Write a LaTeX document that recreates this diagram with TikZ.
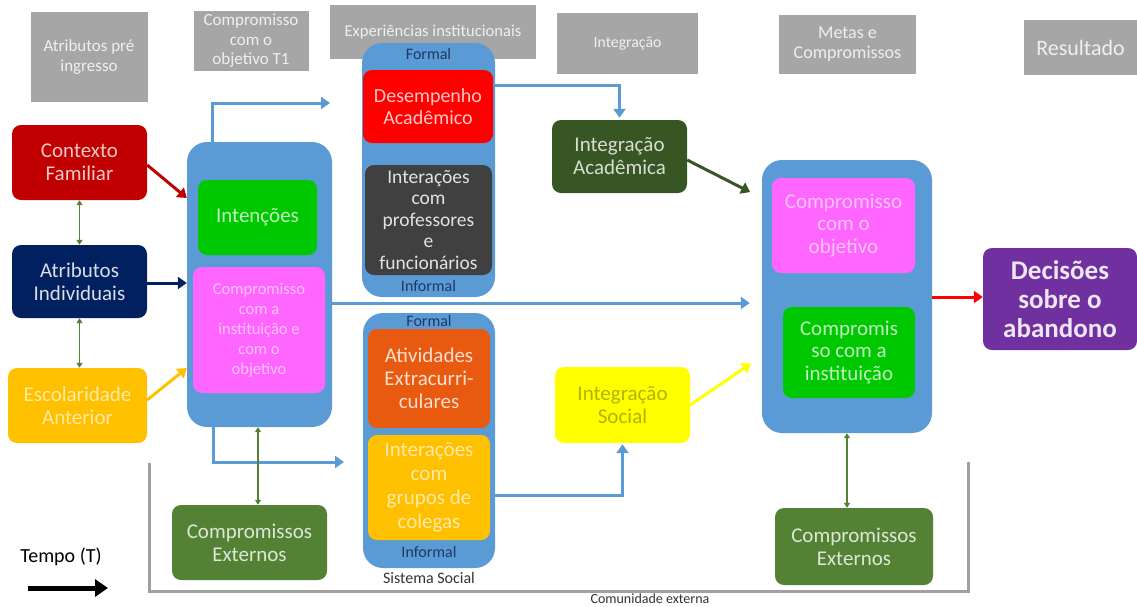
\documentclass[tikz,border=0pt]{standalone}
\usepackage{fontspec}
\setmainfont{Carlito}
\usetikzlibrary{arrows.meta,calc}
\definecolor{hdgray}{HTML}{A6A6A6}
\definecolor{cred}{HTML}{C00000}
\definecolor{cnavy}{HTML}{002060}
\definecolor{cgold}{HTML}{FFC000}
\definecolor{cblue}{HTML}{5B9BD5}
\definecolor{cgreen}{HTML}{00C800}
\definecolor{cpink}{HTML}{FF66FF}
\definecolor{colive}{HTML}{548235}
\definecolor{cred2}{HTML}{FF0000}
\definecolor{cdgray}{HTML}{404040}
\definecolor{cdgreen}{HTML}{375623}
\definecolor{cyellow}{HTML}{FFFF00}
\definecolor{corange}{HTML}{E85A10}
\definecolor{cpurple}{HTML}{7030A0}
\definecolor{lblue}{HTML}{1F3864}
\definecolor{bracket}{HTML}{A0A0A0}
\tikzset{
  hdbox/.style={fill=hdgray, draw=none, text=white!82!hdgray, align=center, inner sep=1pt, font=\fontsize{17}{19.5}\selectfont},
  box/.style={rounded corners=9pt, draw=none, align=center, inner sep=1pt, font=\fontsize{21}{23}\selectfont},
  cont/.style={rounded corners=20pt, fill=cblue, draw=none},
  arr/.style={line width=3pt, -{Triangle[length=9pt,width=12pt]}},
  bluearr/.style={arr, draw=cblue},
  dbl/.style={line width=1.6pt, draw=colive, {Triangle[length=5pt,width=6pt]}-{Triangle[length=5pt,width=6pt]}},
  lbl/.style={text=lblue, font=\fontsize{16}{18}\selectfont, inner sep=0pt},
}
\begin{document}
\begin{tikzpicture}[x=1pt,y=-1pt]
\useasboundingbox (0,0) rectangle (1137,606);
% headers
\node[hdbox, minimum width=117pt, minimum height=90pt] (h1) at (89,57) {Atributos pré\\ingresso};
\node[hdbox, minimum width=115pt, minimum height=60pt] (h2) at (251,41) {Compromisso\\com o\\objetivo T1};
\node[hdbox, minimum width=206pt, minimum height=54pt, font=\fontsize{16.6}{19}\selectfont] (h3) at (433,32) {Experiências institucionais};
\node[hdbox, minimum width=141pt, minimum height=61pt, font=\fontsize{15.8}{18}\selectfont] (h4) at (627.5,43.5) {Integração};
\node[hdbox, minimum width=137pt, minimum height=59pt, font=\fontsize{18}{20}\selectfont] (h5) at (847.5,44) {Metas e\\Compromissos};
\node[hdbox, minimum width=113pt, minimum height=55pt, font=\fontsize{22}{24}\selectfont] (h6) at (1080.5,47.5) {Resultado};
% containers
\node[cont, minimum width=145pt, minimum height=285pt] (c1) at (259.5,284.5) {};
\node[cont, minimum width=133pt, minimum height=254pt] (c2) at (428.5,170) {};
\node[cont, minimum width=132pt, minimum height=255pt] (c3) at (429,440.5) {};
\node[cont, minimum width=170pt, minimum height=273pt] (c4) at (847,296.5) {};
% container labels
\node[lbl] (f2) at (428.5,54) {Formal};
\node[lbl] (i2) at (428.5,286) {Informal};
\node[lbl] (f3) at (429,321) {Formal};
\node[lbl] (i3) at (429,552) {Informal};
\node[inner sep=0pt, font=\fontsize{16}{18}\selectfont, text=black!80] (ss) at (429,578) {Sistema Social};
% left column
\node[box, fill=cred, text=white!78!cred, minimum width=135pt, minimum height=75pt] (cf) at (79.5,162.5) {Contexto\\Familiar};
\node[box, fill=cnavy, text=white!85!cnavy, minimum width=135pt, minimum height=73pt] (ai) at (79.5,281.5) {Atributos\\Individuais};
\node[box, fill=cgold, text=white!65!cgold, minimum width=139pt, minimum height=75pt] (ea) at (77.5,405.5) {Escolaridade\\Anterior};
% inner boxes c1
\node[box, fill=cgreen, text=white!75!cgreen, minimum width=119pt, minimum height=75pt] (int) at (257.5,217.5) {Intenções};
\node[box, fill=cpink, text=white!60!cpink, minimum width=132pt, minimum height=126pt, font=\fontsize{16.5}{20}\selectfont] (cio) at (259,330) {Compromisso\\com a\\instituição e\\com o\\objetivo};
% inner boxes c2
\node[box, fill=cred2, text=white!78!cred2, minimum width=130pt, minimum height=73pt, font=\fontsize{20}{21.5}\selectfont] (da) at (428,106.5) {Desempenho\\Acadêmico};
\node[box, fill=cdgray, text=white!85!cdgray, minimum width=127pt, minimum height=110pt, font=\fontsize{19.5}{21.5}\selectfont] (ip) at (428.5,220) {Interações\\com\\professores\\e\\funcionários};
% inner boxes c3
\node[box, fill=corange, text=white!80!corange, minimum width=122pt, minimum height=99pt] (ae) at (429,378.5) {Atividades\\Extracurri-\\culares};
\node[box, fill=cgold, text=white!65!cgold, minimum width=122pt, minimum height=105pt, font=\fontsize{21}{24}\selectfont] (ig) at (429,487.5) {Interações\\com\\grupos de\\colegas};
% integration
\node[box, fill=cdgreen, text=white!80!cdgreen, minimum width=135pt, minimum height=73pt] (iac) at (619.5,156.5) {Integração\\Acadêmica};
\node[box, fill=cyellow, text=cyellow!70!black, minimum width=135pt, minimum height=76pt] (is) at (622.5,405) {Integração\\Social};
% right container inner
\node[box, fill=cpink, text=white!60!cpink, minimum width=143pt, minimum height=95pt, font=\fontsize{21}{22.5}\selectfont] (co) at (843.5,225.5) {Compromisso\\com o\\objetivo};
\node[box, fill=cgreen, text=white!75!cgreen, minimum width=132pt, minimum height=91pt, font=\fontsize{21}{22.5}\selectfont] (ci) at (849,352.5) {Compromis\\so com a\\instituição};
% result
\node[box, fill=cpurple, text=white!88!cpurple, minimum width=154pt, minimum height=102pt, font=\fontsize{27}{29}\selectfont\bfseries] (dec) at (1060,299) {Decisões\\sobre o\\abandono};
% external
\node[box, fill=colive, text=white!80!colive, minimum width=155pt, minimum height=75pt] (ce1) at (249.5,542.5) {Compromissos\\Externos};
\node[box, fill=colive, text=white!80!colive, minimum width=158pt, minimum height=77pt] (ce2) at (854,546.5) {Compromissos\\Externos};
% bracket
\coordinate (bl) at (149,463);
\coordinate (br) at (968,462);
\draw[bracket, line width=3pt] (bl) |- (968,591) -- (br);
\node[inner sep=0pt, font=\fontsize{14}{16}\selectfont, text=black!80] (cx) at (650,599) {Comunidade externa};
% time
\node[inner sep=0pt, font=\fontsize{20}{22}\selectfont] (tt) at (61,557) {Tempo (T)};
\coordinate (ta) at (28,588);
\coordinate (tb) at (108,588);
\draw[line width=5pt, -{Triangle[length=13pt,width=17pt]}] (ta) -- (tb);
% connectors
\draw[dbl] (cf.south) -- (ai.north);
\draw[dbl] (ai.south) -- (ai.south |- ea.north);
\draw[arr, draw=cred] (cf.east |- 0,165) -- (c1.west |- 0,198);
\draw[arr, draw=cnavy] (ai.east |- 0,283) -- (c1.west |- 0,283);
\draw[arr, draw=cgold] (ea.east |- 0,400) -- (c1.west |- 0,368);
\coordinate (t1) at (330,103);
\coordinate (t2) at (344,462);
\draw[bluearr] (212,0 |- c1.north) |- (t1);
\draw[bluearr] (213,0 |- c1.south) |- (t2);
\draw[bluearr, shorten >=12pt] (c1.east |- 0,303) -- (c4.west |- 0,303);
\draw[dbl] (258,0 |- c1.south) -- (258,0 |- ce1.north);
\draw[bluearr, shorten >=2pt] (da.east |- 0,85) -| (iac.north);
\draw[bluearr, shorten >=1pt] (ig.east |- 0,495) -| (is.south);
\draw[arr, draw=cdgreen, shorten >=13pt] (iac.east |- 0,160) -- (c4.west |- 0,198);
\draw[arr, draw=cyellow, shorten >=13pt] (is.east) -- (c4.west |- 0,356);
\draw[arr, draw=cred2] (c4.east |- 0,297) -- (dec.west |- 0,297);
\draw[dbl] (847,0 |- c4.south) -- (847,0 |- ce2.north);
\end{tikzpicture}
\end{document}
